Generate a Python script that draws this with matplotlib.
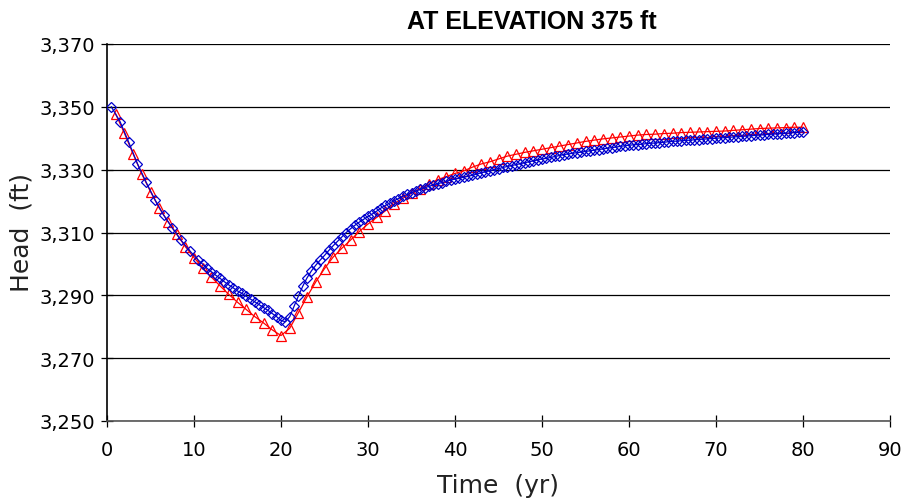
import matplotlib
matplotlib.use("Agg")
import matplotlib.pyplot as plt
from matplotlib.ticker import FuncFormatter, MultipleLocator, FixedLocator

# ---- data ----
blue_t = [0.5, 1.5, 2.5, 3.5, 4.5, 5.5, 6.5, 7.5, 8.5, 9.5, 10.5,
          11.0, 11.5, 12.0, 12.5, 13.0, 13.5, 14.0, 14.5, 15.0, 15.5,
          16.0, 16.5, 17.0, 17.5, 18.0, 18.5, 19.0, 19.5, 20.0, 20.5,
          21.0, 21.5, 22.0, 22.5, 23.0, 23.5, 24.0, 24.5, 25.0, 25.5,
          26.0, 26.5, 27.0, 27.5, 28.0, 28.5, 29.0, 29.5, 30.0, 30.5,
          31.0, 31.5, 32.0, 32.5, 33.0, 33.5, 34.0, 34.5, 35.0, 35.5,
          36.0, 36.5, 37.0, 37.5, 38.0, 38.5, 39.0, 39.5, 40.0, 40.5,
          41.0, 41.5, 42.0, 42.5, 43.0, 43.5, 44.0, 44.5, 45.0, 45.5,
          46.0, 46.5, 47.0, 47.5, 48.0, 48.5, 49.0, 49.5, 50.0, 50.5,
          51.0, 51.5, 52.0, 52.5, 53.0, 53.5, 54.0, 54.5, 55.0, 55.5,
          56.0, 56.5, 57.0, 57.5, 58.0, 58.5, 59.0, 59.5, 60.0, 60.5,
          61.0, 61.5, 62.0, 62.5, 63.0, 63.5, 64.0, 64.5, 65.0, 65.5,
          66.0, 66.5, 67.0, 67.5, 68.0, 68.5, 69.0, 69.5, 70.0, 70.5,
          71.0, 71.5, 72.0, 72.5, 73.0, 73.5, 74.0, 74.5, 75.0, 75.5,
          76.0, 76.5, 77.0, 77.5, 78.0, 78.5, 79.0, 79.5, 80.0]
blue_h = [3350.0, 3345.3, 3338.7, 3331.9, 3326.0, 3320.5, 3315.6, 3311.5, 3307.6, 3304.2, 3301.2,
          3299.9, 3298.6, 3297.5, 3296.4, 3295.4, 3294.3, 3293.3, 3292.4, 3291.4, 3290.6,
          3289.7, 3288.8, 3287.9, 3287.0, 3286.1, 3285.2, 3284.2, 3283.2, 3282.0, 3281.6,
          3283.2, 3286.5, 3289.8, 3292.9, 3295.6, 3297.8, 3299.6, 3301.2, 3302.7, 3304.3,
          3305.8, 3307.2, 3308.6, 3310.0, 3311.2, 3312.3, 3313.3, 3314.2, 3315.1, 3315.9,
          3316.8, 3317.8, 3318.6, 3319.4, 3320.1, 3320.8, 3321.5, 3322.1, 3322.7, 3323.2,
          3323.7, 3324.2, 3324.7, 3325.1, 3325.5, 3325.9, 3326.3, 3326.7, 3327.0, 3327.3,
          3327.6, 3327.9, 3328.2, 3328.6, 3329.0, 3329.3, 3329.7, 3330.0, 3330.3, 3330.7,
          3331.0, 3331.3, 3331.6, 3331.9, 3332.2, 3332.5, 3332.8, 3333.1, 3333.4, 3333.6,
          3333.9, 3334.2, 3334.5, 3334.8, 3335.0, 3335.2, 3335.4, 3335.6, 3335.8, 3336.0,
          3336.2, 3336.4, 3336.6, 3336.8, 3337.0, 3337.2, 3337.4, 3337.6, 3337.8, 3337.9,
          3338.0, 3338.1, 3338.3, 3338.4, 3338.5, 3338.6, 3338.7, 3338.9, 3339.0, 3339.1,
          3339.2, 3339.3, 3339.4, 3339.5, 3339.6, 3339.7, 3339.8, 3339.9, 3340.0, 3340.1,
          3340.2, 3340.3, 3340.4, 3340.5, 3340.6, 3340.7, 3340.8, 3340.9, 3341.0, 3341.1,
          3341.2, 3341.3, 3341.4, 3341.5, 3341.6, 3341.7, 3341.8, 3341.9, 3342.1]

red_t = list(range(1, 81))
red_h = [3347.7, 3341.6, 3335.0, 3328.6, 3323.0, 3317.8, 3313.5, 3309.5, 3305.5, 3302.0,
         3298.8, 3295.8, 3293.0, 3290.3, 3287.8, 3285.5, 3283.2, 3281.2, 3279.0, 3277.2,
         3279.5, 3284.5, 3289.6, 3294.3, 3298.5, 3302.2, 3305.0, 3307.6, 3310.3, 3312.7,
         3314.8, 3316.9, 3319.1, 3320.9, 3322.5, 3324.0, 3325.4, 3326.8, 3327.8, 3328.8,
         3329.6, 3330.8, 3331.8, 3332.5, 3333.4, 3334.3, 3334.9, 3335.5, 3336.0, 3336.5,
         3337.0, 3337.5, 3338.0, 3338.5, 3339.0, 3339.4, 3339.8, 3340.1, 3340.4, 3340.7,
         3341.0, 3341.2, 3341.3, 3341.5, 3341.6, 3341.8, 3341.9, 3342.0, 3342.1, 3342.2,
         3342.3, 3342.5, 3342.7, 3342.9, 3343.1, 3343.2, 3343.3, 3343.4, 3343.5, 3343.5]

y_ticks = [3250, 3270, 3290, 3310, 3330, 3350, 3370]
x_ticks = [0, 10, 20, 30, 40, 50, 60, 70, 80, 90]

title = "AT ELEVATION 375 ft"
xlabel = "Time  (yr)"
ylabel = "Head  (ft)"

# ---- figure ----
W, H = 909, 502
fig = plt.figure(figsize=(W / 100, H / 100), dpi=100)
ax = fig.add_axes([107 / W, 1 - 422 / H, (890 - 107) / W, (422 - 45) / H])

ax.plot(red_t, red_h, color="#FF0000", lw=0.9, marker="^", ms=7.5,
        mfc="none", mec="#FF0000", mew=0.9, zorder=3)
ax.plot(blue_t, blue_h, color="#0000CC", lw=0.9, marker="D", ms=5,
        mfc="none", mec="#0000CC", mew=0.9, zorder=4)

ax.set_xlim(0, 90)
ax.set_ylim(3250, 3370)
ax.xaxis.set_major_locator(FixedLocator(x_ticks))
ax.yaxis.set_major_locator(FixedLocator(y_ticks))
ax.yaxis.set_major_formatter(FuncFormatter(lambda v, p: f"{int(round(v)):,}"))
ax.grid(axis="y", color="black", lw=0.9)
ax.set_axisbelow(True)

for s in ("top", "right"):
    ax.spines[s].set_visible(False)
ax.spines["left"].set_color("black")
ax.spines["left"].set_linewidth(1.2)
ax.spines["bottom"].set_color("#555555")
ax.spines["bottom"].set_linewidth(1.2)

ax.tick_params(axis="both", direction="inout", length=9, width=0.9,
               labelsize=14, colors="black", pad=4)
ax.tick_params(axis="x", pad=9)

fig.text(532 / W, 1 - 22 / H, title, ha="center", va="center",
         fontsize=18, fontweight="bold", family="Liberation Sans")
fig.text(498 / W, 1 - 486 / H, xlabel, ha="center", va="center",
         fontsize=18, color="#222222")
fig.text(22 / W, 1 - 232 / H, ylabel, ha="center", va="center",
         fontsize=18, color="#222222", rotation=90)

fig.savefig("out.png", dpi=100)
